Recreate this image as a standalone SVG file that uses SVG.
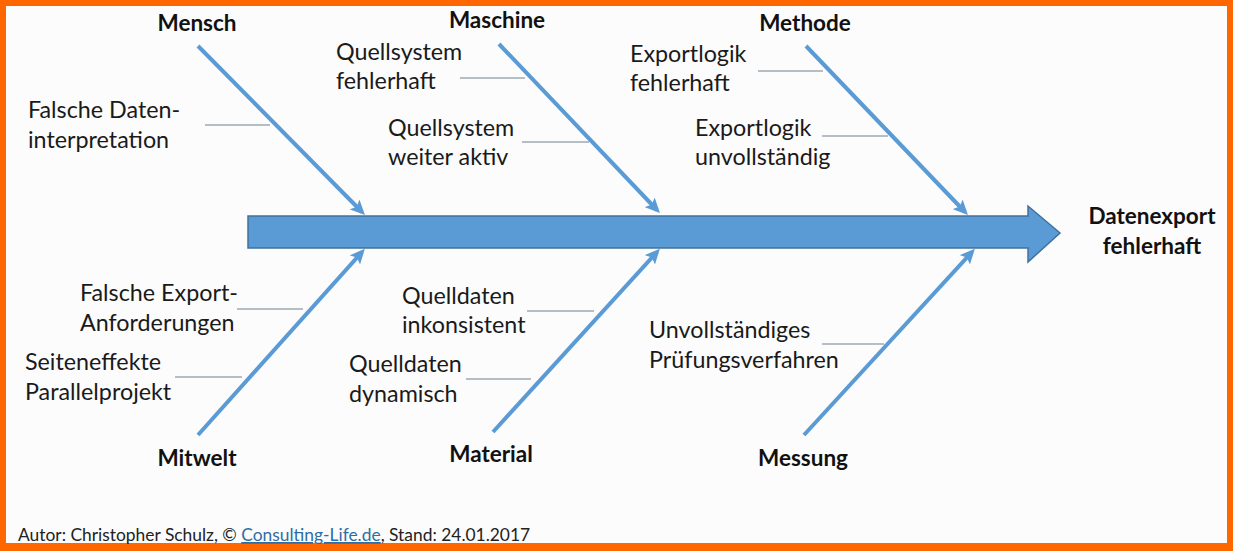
<svg xmlns="http://www.w3.org/2000/svg" width="1233" height="551" viewBox="0 0 1233 551">
<style>
.t{font-family:Lato,"Open Sans","Liberation Sans",sans-serif;font-size:23.3px;fill:#1a1a1a}
.b{font-family:Lato,"Liberation Sans",sans-serif;font-size:22.5px;font-weight:bold;fill:#111;text-anchor:middle}
.bone{stroke:#5b9bd5;stroke-width:4;fill:none;marker-end:url(#ah)}
.lbl{stroke:#6f7f8f;stroke-width:1;fill:none}
.f{font-family:Lato,"Liberation Sans",sans-serif;font-size:17.4px;fill:#222}
</style>
<defs>
<marker id="ah" markerUnits="userSpaceOnUse" markerWidth="16" markerHeight="14" refX="10" refY="6.5" orient="auto" viewBox="0 0 15 13">
<path d="M0,0 L14,6.5 L0,13 L3,6.5 z" fill="#5b9bd5"/>
</marker>
</defs>
<rect x="0" y="0" width="1233" height="551" fill="#ff6600"/>
<rect x="6" y="6" width="1221" height="537" fill="#fcfcfc"/>

<g id="spine">
<polygon points="248,216 1028,216 1028,206 1060,233 1028,262 1028,248 248,248" fill="#5b9bd5" stroke="#41719c" stroke-width="1.5"/>
</g>

<g id="connectors">
<line class="bone" x1="198" y1="46" x2="362" y2="212"/>
<line class="bone" x1="198" y1="435" x2="362" y2="252"/>
<line class="bone" x1="499" y1="44" x2="657" y2="210"/>
<line class="bone" x1="493" y1="432" x2="657" y2="252"/>
<line class="bone" x1="806" y1="46" x2="965" y2="212"/>
<line class="bone" x1="804" y1="435" x2="972" y2="252"/>
<line class="lbl" x1="205" y1="125" x2="270" y2="125"/>
<line class="lbl" x1="460" y1="78" x2="525" y2="78"/>
<line class="lbl" x1="522" y1="142" x2="589" y2="142"/>
<line class="lbl" x1="758" y1="71" x2="823" y2="71"/>
<line class="lbl" x1="822" y1="136" x2="888" y2="136"/>
<line class="lbl" x1="237" y1="309" x2="303" y2="309"/>
<line class="lbl" x1="175" y1="377" x2="242" y2="377"/>
<line class="lbl" x1="527" y1="311" x2="594" y2="311"/>
<line class="lbl" x1="466" y1="379" x2="531" y2="379"/>
<line class="lbl" x1="822" y1="344" x2="884" y2="344"/>
</g>

<g id="mensch"><text class="b" x="197" y="31">Mensch</text></g>
<g id="maschine"><text class="b" x="497" y="28">Maschine</text></g>
<g id="methode"><text class="b" x="805" y="31">Methode</text></g>
<g id="mitwelt"><text class="b" x="197" y="466">Mitwelt</text></g>
<g id="material"><text class="b" x="491" y="462">Material</text></g>
<g id="messung"><text class="b" x="803" y="466">Messung</text></g>
<g id="effect"><text class="b" x="1152" y="224">Datenexport</text><text class="b" x="1152" y="254">fehlerhaft</text></g>

<g id="c1"><text class="t" x="28" y="118">Falsche Daten-</text><text class="t" x="28" y="148">interpretation</text></g>
<g id="c2"><text class="t" x="336" y="60">Quellsystem</text><text class="t" x="336" y="89">fehlerhaft</text></g>
<g id="c3"><text class="t" x="388" y="136">Quellsystem</text><text class="t" x="388" y="165">weiter aktiv</text></g>
<g id="c4"><text class="t" x="630" y="62">Exportlogik</text><text class="t" x="630" y="91">fehlerhaft</text></g>
<g id="c5"><text class="t" x="695" y="136">Exportlogik</text><text class="t" x="695" y="165">unvollständig</text></g>
<g id="c6"><text class="t" x="80" y="301">Falsche Export-</text><text class="t" x="80" y="331">Anforderungen</text></g>
<g id="c7"><text class="t" x="25" y="370">Seiteneffekte</text><text class="t" x="25" y="400">Parallelprojekt</text></g>
<g id="c8"><text class="t" x="402" y="304">Quelldaten</text><text class="t" x="402" y="333">inkonsistent</text></g>
<g id="c9"><text class="t" x="349" y="372">Quelldaten</text><text class="t" x="349" y="402">dynamisch</text></g>
<g id="c10"><text class="t" x="649" y="338">Unvollständiges</text><text class="t" x="649" y="368">Prüfungsverfahren</text></g>

<g id="footer"><text class="f" x="18" y="541">Autor: Christopher Schulz, © <tspan fill="#2e6da4" text-decoration="underline">Consulting-Life.de</tspan>, Stand: 24.01.2017</text></g>
</svg>
